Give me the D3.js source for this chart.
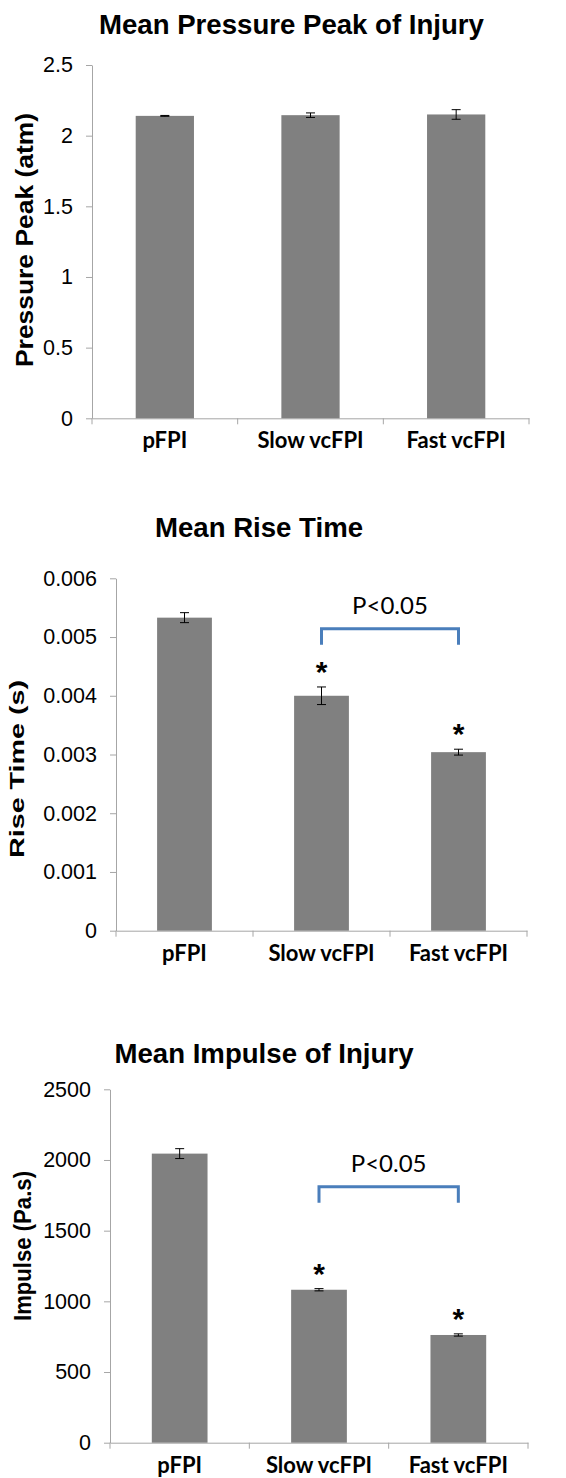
<!DOCTYPE html>
<html>
<head>
<meta charset="utf-8">
<script src="https://cdn.jsdelivr.net/npm/d3@7"></script>
<style>
  body { margin: 0; background: #fff; }
  .chart-title { font-family: "Liberation Sans", Arial, sans-serif; font-weight: bold; font-size: 27.6px; fill: #000; }
  .y-title { font-family: "Liberation Sans", Arial, sans-serif; font-weight: bold; fill: #000; }
  .y-axis text { font-family: "Liberation Sans", Arial, sans-serif; font-size: 21.5px; fill: #000; }
  .x-axis text { font-family: Lato, "Open Sans", sans-serif; font-weight: bold; font-size: 22px; fill: #000; }
  .domain, .tick line, .cat-tick { stroke: #a6a6a6; stroke-width: 1; }
  .bar { fill: #808080; }
  .err { stroke: #000; stroke-width: 1; }
  .star { font-family: "Liberation Sans", Arial, sans-serif; font-weight: bold; font-size: 30px; fill: #000; }
  .bracket { fill: none; stroke: #4a7ebb; stroke-width: 3; }
  .p-label { font-family: Lato, "Open Sans", sans-serif; font-size: 24px; fill: #000; }
</style>
</head>
<body>
<div id="chart"></div>
<script>
const categories = ["pFPI", "Slow vcFPI", "Fast vcFPI"];

const peakMeans = [2.14, 2.145, 2.15];
const peakErrors = [0.003, 0.016, 0.034];
const peakTicks = [0, 0.5, 1, 1.5, 2, 2.5];

const riseMeans = [0.00533, 0.0040, 0.00304];
const riseErrors = [0.000085, 0.00015, 0.00005];
const riseTicks = [0, 0.001, 0.002, 0.003, 0.004, 0.005, 0.006];
const riseStars = [false, true, true];

const impulseMeans = [2045, 1082, 762];
const impulseErrors = [35, 8, 8];
const impulseTicks = [0, 500, 1000, 1500, 2000, 2500];
const impulseStars = [false, true, true];

const bracketPair = ["Slow vcFPI", "Fast vcFPI"];
const bracketText = "P<0.05";
const riseBracketLevel = 0.00514;
const impulseBracketLevel = 1811;

const width = 566, height = 1478;

const svg = d3.select("#chart").append("svg")
  .attr("width", width)
  .attr("height", height);

// one entry per stacked chart, layout only
const panels = [
  { title: "Mean Pressure Peak of Injury", yTitle: "Pressure Peak (atm)",
    means: peakMeans, errors: peakErrors, ticks: peakTicks, stars: null, bracketLevel: null,
    left: 92, right: 529, top: 65, bottom: 418.3,
    titleX: 291.5, titleY: 34, yTitleX: 25, yTitleY: 240, yTitleLen: 254, yTitleSize: 23 },
  { title: "Mean Rise Time", yTitle: "Rise Time (s)",
    means: riseMeans, errors: riseErrors, ticks: riseTicks, stars: riseStars, bracketLevel: riseBracketLevel,
    left: 116, right: 527, top: 578.3, bottom: 930.7,
    titleX: 259, titleY: 537, yTitleX: 16.5, yTitleY: 769, yTitleLen: 178, yTitleSize: 20 },
  { title: "Mean Impulse of Injury", yTitle: "Impulse (Pa.s)",
    means: impulseMeans, errors: impulseErrors, ticks: impulseTicks, stars: impulseStars, bracketLevel: impulseBracketLevel,
    left: 110, right: 528, top: 1089.3, bottom: 1442.7,
    titleX: 264, titleY: 1063.3, yTitleX: 22.5, yTitleY: 1246, yTitleLen: 150, yTitleSize: 23 }
];

panels.forEach(p => {
  const g = svg.append("g");

  const y = d3.scaleLinear()
    .domain([0, d3.max(p.ticks)])
    .range([p.bottom, p.top]);

  const xCat = d3.scaleBand()
    .domain(categories)
    .range([p.left, p.right]);

  const xBar = d3.scaleBand()
    .domain(categories)
    .range([p.left, p.right])
    .paddingInner(0.6)
    .paddingOuter(0.3);

  g.append("text")
    .attr("class", "chart-title")
    .attr("x", p.titleX)
    .attr("y", p.titleY)
    .attr("text-anchor", "middle")
    .text(p.title);

  g.append("text")
    .attr("class", "y-title")
    .attr("transform", `translate(${p.yTitleX},${p.yTitleY}) rotate(-90)`)
    .attr("text-anchor", "middle")
    .attr("dominant-baseline", "central")
    .attr("font-size", p.yTitleSize)
    .attr("textLength", p.yTitleLen)
    .attr("lengthAdjust", "spacingAndGlyphs")
    .text(p.yTitle);

  g.append("g")
    .attr("class", "y-axis")
    .attr("transform", `translate(${p.left},0)`)
    .call(d3.axisLeft(y).tickValues(p.ticks).tickFormat(d => String(d)).tickSize(6).tickSizeOuter(0).tickPadding(13));

  const xAxis = g.append("g")
    .attr("class", "x-axis")
    .attr("transform", `translate(0,${p.bottom})`)
    .call(d3.axisBottom(xCat).tickSize(0).tickSizeOuter(0));
  xAxis.selectAll("text").attr("y", 30).attr("dy", 0);

  // category boundary ticks below the axis
  const bounds = categories.map(c => xCat(c)).concat([xCat(categories[categories.length - 1]) + xCat.bandwidth()]);
  xAxis.selectAll(".cat-tick")
    .data(bounds)
    .enter().append("line")
    .attr("class", "cat-tick")
    .attr("x1", d => d).attr("x2", d => d)
    .attr("y1", 0).attr("y2", 6);

  const rows = categories.map((c, i) => ({ cat: c, mean: p.means[i], err: p.errors[i], star: p.stars ? p.stars[i] : false }));

  g.selectAll(".bar")
    .data(rows)
    .enter().append("rect")
    .attr("class", "bar")
    .attr("x", d => xBar(d.cat))
    .attr("width", xBar.bandwidth())
    .attr("y", d => y(d.mean))
    .attr("height", d => y(0) - y(d.mean));

  const cx = d => xBar(d.cat) + xBar.bandwidth() / 2;
  const errs = g.selectAll(".errbar").data(rows).enter().append("g").attr("class", "errbar");
  errs.append("line").attr("class", "err")
    .attr("x1", cx).attr("x2", cx)
    .attr("y1", d => y(d.mean + d.err)).attr("y2", d => y(d.mean - d.err));
  errs.append("line").attr("class", "err")
    .attr("x1", d => cx(d) - 4.5).attr("x2", d => cx(d) + 4.5)
    .attr("y1", d => y(d.mean + d.err)).attr("y2", d => y(d.mean + d.err));
  errs.append("line").attr("class", "err")
    .attr("x1", d => cx(d) - 4.5).attr("x2", d => cx(d) + 4.5)
    .attr("y1", d => y(d.mean - d.err)).attr("y2", d => y(d.mean - d.err));

  g.selectAll(".star")
    .data(rows.filter(d => d.star))
    .enter().append("text")
    .attr("class", "star")
    .attr("x", cx)
    .attr("y", d => y(d.mean + d.err) - 22 + 17)
    .attr("text-anchor", "middle")
    .text("*");

  if (p.bracketLevel !== null) {
    const xa = xBar(bracketPair[0]) + xBar.bandwidth() / 2;
    const xb = xBar(bracketPair[1]) + xBar.bandwidth() / 2;
    const by = y(p.bracketLevel);
    g.append("path")
      .attr("class", "bracket")
      .attr("d", `M${xa},${by + 16}V${by}H${xb}V${by + 16}`);
    g.append("text")
      .attr("class", "p-label")
      .attr("x", (xa + xb) / 2)
      .attr("y", by - 15)
      .attr("text-anchor", "middle")
      .text(bracketText);
  }
});
</script>
</body>
</html>
